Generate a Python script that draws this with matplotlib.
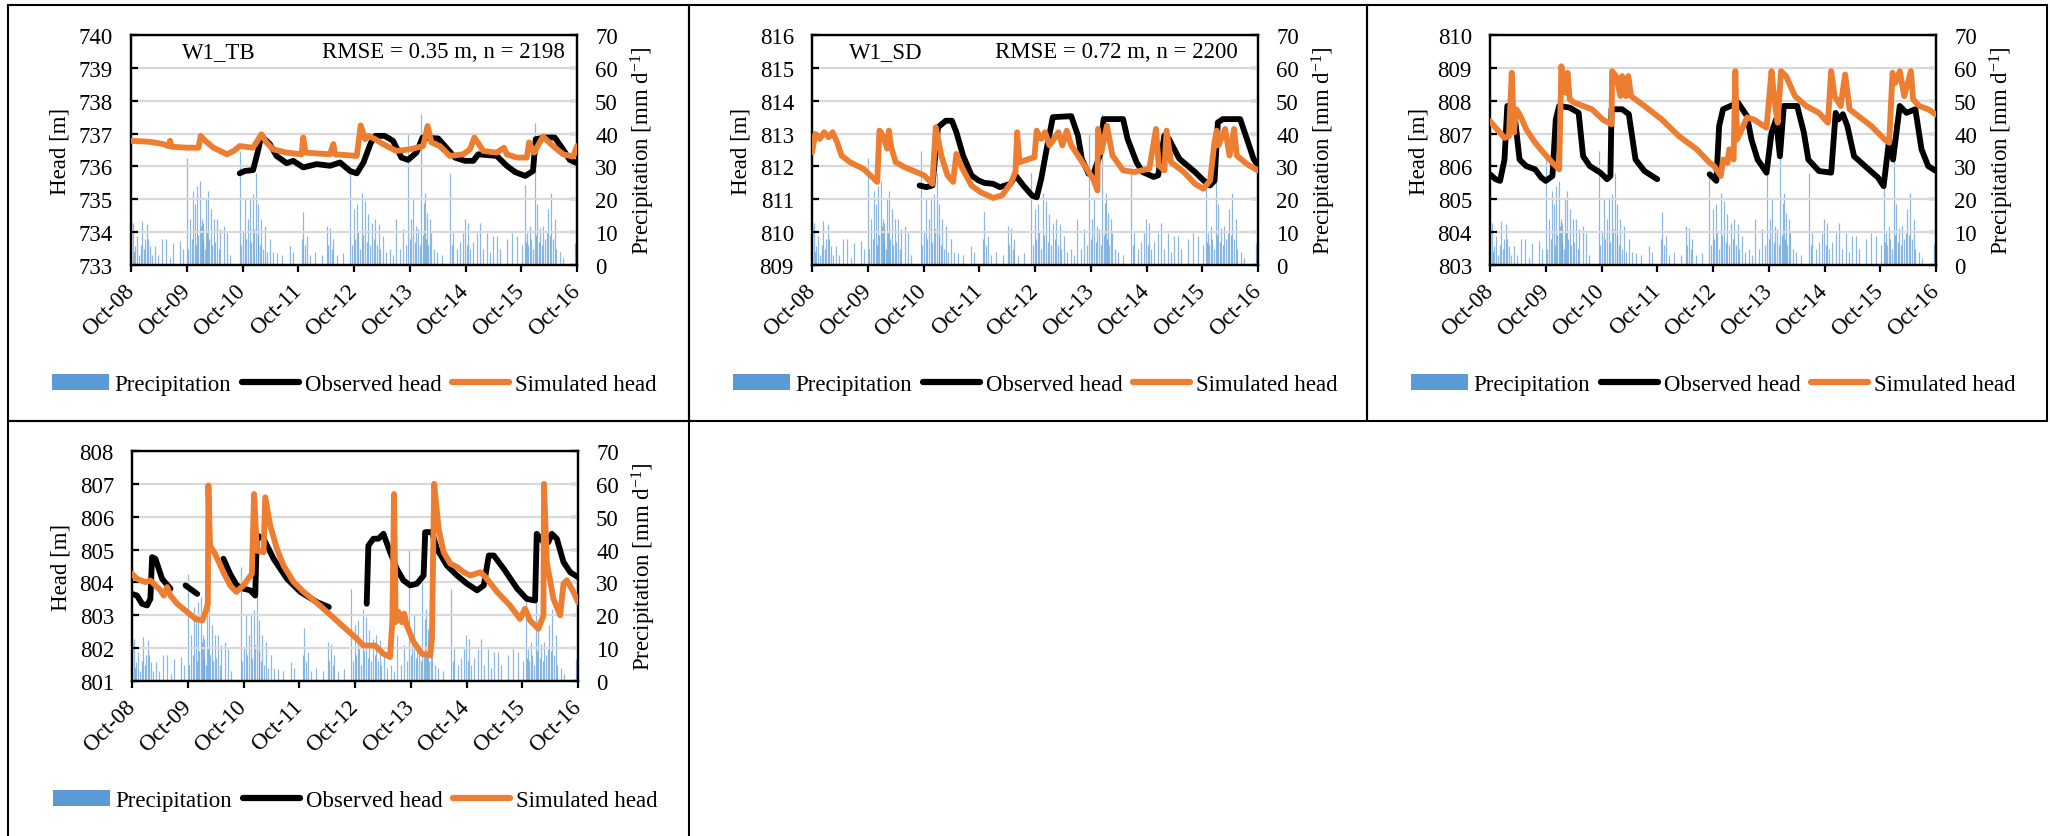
import numpy as np
import matplotlib
matplotlib.use("Agg")
import matplotlib.pyplot as plt
from matplotlib.patches import Patch, Rectangle
from matplotlib.lines import Line2D

plt.rcParams['font.family'] = ['Liberation Serif', 'DejaVu Serif']
plt.rcParams['mathtext.fontset'] = 'custom'
plt.rcParams['mathtext.rm'] = 'Liberation Serif'
plt.rcParams['mathtext.it'] = 'Liberation Serif:italic'

NAN = float('nan')

# ---------------- data ----------------
tick_labels = ['Oct-08', 'Oct-09', 'Oct-10', 'Oct-11', 'Oct-12',
               'Oct-13', 'Oct-14', 'Oct-15', 'Oct-16']
tick_years = [2008.75, 2009.75, 2010.75, 2011.75, 2012.75,
              2013.75, 2014.75, 2015.75, 2016.75]

# daily precipitation events (decimal year, mm/d)
precip_events = [
    (2008.78, 12.9), (2008.80, 4), (2008.82, 5.8), (2008.86, 8.7), (2008.90, 3),
    (2008.93, 6), (2008.95, 13.4), (2008.98, 5), (2009.01, 8), (2009.03, 12.4),
    (2009.06, 7.9), (2009.09, 5.8), (2009.13, 3), (2009.18, 5.8), (2009.24, 3),
    (2009.30, 7.8), (2009.38, 7.8), (2009.45, 2), (2009.51, 6.8), (2009.63, 7.3),
    (2009.69, 4.8),
    (2009.76, 32.7), (2009.78, 5), (2009.81, 13.9), (2009.84, 8), (2009.87, 22.5),
    (2009.90, 18.5), (2009.92, 6), (2009.93, 24), (2009.95, 9), (2009.98, 25.6),
    (2010.00, 12), (2010.02, 13.9), (2010.04, 7), (2010.05, 12.9), (2010.07, 5),
    (2010.09, 20.5), (2010.12, 10), (2010.14, 22.5), (2010.15, 8), (2010.18, 17),
    (2010.20, 6), (2010.23, 13.9), (2010.26, 7), (2010.29, 13.9), (2010.32, 5),
    (2010.35, 10.9), (2010.41, 11.9), (2010.47, 9.8), (2010.53, 3),
    (2010.70, 34.7), (2010.73, 6), (2010.76, 10), (2010.79, 20), (2010.82, 8),
    (2010.85, 13.9), (2010.88, 20), (2010.91, 7), (2010.93, 21.5), (2010.96, 11),
    (2010.99, 28), (2011.02, 9), (2011.03, 18.5), (2011.06, 6), (2011.09, 13.9),
    (2011.12, 5), (2011.15, 11.9), (2011.19, 4), (2011.24, 7.8), (2011.30, 4),
    (2011.36, 3.7), (2011.45, 3), (2011.60, 5.8), (2011.66, 4),
    (2011.81, 8), (2011.84, 16), (2011.87, 6), (2011.90, 8.8), (2011.96, 3),
    (2012.05, 4), (2012.17, 3), (2012.26, 11.9), (2012.29, 6), (2012.32, 11.4),
    (2012.35, 5), (2012.38, 7.9), (2012.44, 3), (2012.56, 3.7),
    (2012.68, 28), (2012.71, 6), (2012.75, 17), (2012.77, 8), (2012.80, 18.5),
    (2012.83, 10), (2012.86, 5), (2012.89, 22), (2012.92, 9), (2012.95, 19.5),
    (2012.98, 7), (2013.01, 15.4), (2013.04, 6), (2013.08, 12.9), (2013.10, 8),
    (2013.13, 13.9), (2013.16, 6), (2013.19, 12.4), (2013.22, 5), (2013.27, 8.8),
    (2013.33, 4), (2013.39, 5), (2013.45, 3),
    (2013.51, 13.9), (2013.57, 5), (2013.63, 10.9), (2013.69, 6), (2013.72, 39.8),
    (2013.75, 8), (2013.78, 14), (2013.81, 20), (2013.84, 7), (2013.87, 12),
    (2013.90, 10.9), (2013.93, 6), (2013.96, 46), (2013.98, 9), (2014.00, 19),
    (2014.02, 22), (2014.04, 8), (2014.06, 15.9), (2014.08, 6), (2014.11, 13.9),
    (2014.14, 9.8), (2014.18, 5), (2014.23, 4), (2014.32, 3),
    (2014.47, 28), (2014.50, 6), (2014.53, 9.8), (2014.59, 5), (2014.65, 7),
    (2014.71, 9.8), (2014.74, 14), (2014.77, 6), (2014.80, 12.9), (2014.83, 5),
    (2014.89, 7), (2014.95, 9.8), (2015.01, 12.9), (2015.07, 5), (2015.13, 9.8),
    (2015.19, 4), (2015.25, 8.8), (2015.31, 8.8), (2015.37, 4.8), (2015.49, 7.8),
    (2015.58, 9.8), (2015.67, 8.8),
    (2015.76, 6), (2015.82, 24.5), (2015.83, 7), (2015.86, 9.8), (2015.88, 6),
    (2015.91, 11.9), (2015.93, 8), (2015.96, 5), (2015.99, 43.3), (2016.01, 9),
    (2016.04, 18.5), (2016.06, 7), (2016.09, 11.4), (2016.12, 6), (2016.14, 11.9),
    (2016.17, 8), (2016.21, 9.8), (2016.23, 16.9), (2016.26, 9), (2016.29, 22),
    (2016.32, 8), (2016.35, 13.9), (2016.38, 5), (2016.44, 4), (2016.50, 2.2),
    (2016.71, 6.8),
]

# ---- W1_TB ----
obs_TB = [
    (2010.70, 735.79), (2010.79, 735.86), (2010.94, 735.89), (2011.02, 736.42),
    (2011.09, 736.93), (2011.24, 736.68), (2011.36, 736.32), (2011.54, 736.10),
    (2011.66, 736.17), (2011.84, 735.97), (2012.08, 736.07), (2012.32, 736.02),
    (2012.50, 736.12), (2012.68, 735.86), (2012.80, 735.79), (2012.92, 736.12),
    (2013.05, 736.71), (2013.13, 736.93), (2013.30, 736.93), (2013.45, 736.78),
    (2013.60, 736.27), (2013.72, 736.20), (2013.87, 736.42), (2013.98, 736.88),
    (2014.26, 736.85), (2014.38, 736.62), (2014.56, 736.27), (2014.74, 736.17),
    (2014.89, 736.17), (2014.98, 736.37), (2015.31, 736.32), (2015.49, 736.02),
    (2015.64, 735.83), (2015.82, 735.71), (2015.96, 735.86), (2016.01, 736.83),
    (2016.17, 736.88), (2016.35, 736.88), (2016.50, 736.52), (2016.62, 736.20),
    (2016.75, 736.10),
]
sim_TB = [
    (2008.75, 736.78), (2009.09, 736.75), (2009.33, 736.68), (2009.42, 736.62),
    (2009.45, 736.78), (2009.48, 736.60), (2009.75, 736.57), (2009.96, 736.57),
    (2010.00, 736.93), (2010.08, 736.78), (2010.23, 736.57), (2010.47, 736.37),
    (2010.59, 736.47), (2010.70, 736.62), (2010.94, 736.57), (2011.09, 736.98),
    (2011.18, 736.73), (2011.30, 736.52), (2011.54, 736.42), (2011.81, 736.37),
    (2011.84, 736.88), (2011.88, 736.42), (2012.32, 736.37), (2012.38, 736.68),
    (2012.41, 736.37), (2012.80, 736.32), (2012.87, 737.25), (2012.95, 736.83),
    (2013.01, 736.93), (2013.13, 736.83), (2013.27, 736.68), (2013.51, 736.47),
    (2013.75, 736.52), (2013.99, 736.62), (2014.07, 737.23), (2014.14, 736.73),
    (2014.29, 736.62), (2014.47, 736.32), (2014.71, 736.37), (2014.83, 736.52),
    (2014.91, 736.88), (2015.07, 736.47), (2015.31, 736.42), (2015.44, 736.57),
    (2015.49, 736.37), (2015.67, 736.27), (2015.85, 736.27), (2015.89, 736.73),
    (2015.98, 736.42), (2016.14, 736.91), (2016.32, 736.62), (2016.50, 736.37),
    (2016.68, 736.30), (2016.75, 736.62),
]

# ---- W1_SD ----
obs_SD = [
    (2010.68, 811.42), (2010.80, 811.37), (2010.91, 811.42), (2011.01, 813.19),
    (2011.15, 813.39), (2011.26, 813.39), (2011.34, 813.04), (2011.46, 812.33),
    (2011.61, 811.73), (2011.73, 811.58), (2011.84, 811.50), (2012.00, 811.47),
    (2012.12, 811.37), (2012.31, 811.47), (2012.40, 811.73), (2012.54, 811.42),
    (2012.70, 811.11), (2012.78, 811.06), (2012.86, 811.61), (2012.97, 812.63),
    (2013.07, 813.50), (2013.40, 813.53), (2013.52, 812.94), (2013.59, 812.23),
    (2013.71, 811.78), (2013.79, 811.73), (2013.91, 812.33), (2013.98, 813.44),
    (2014.33, 813.44), (2014.41, 812.84), (2014.57, 812.13), (2014.68, 811.83),
    (2014.88, 811.68), (2014.96, 811.73), (2015.07, 812.94), (2015.15, 812.84),
    (2015.34, 812.23), (2015.62, 811.83), (2015.77, 811.58), (2015.89, 811.42),
    (2015.97, 811.57), (2016.03, 813.34), (2016.12, 813.44), (2016.43, 813.44),
    (2016.55, 812.84), (2016.67, 812.23), (2016.75, 812.03),
]
sim_SD = [
    (2008.75, 812.43), (2008.81, 812.99), (2008.89, 812.84), (2008.97, 813.04),
    (2009.05, 812.89), (2009.12, 813.04), (2009.20, 812.74), (2009.28, 812.33),
    (2009.43, 812.13), (2009.67, 811.93), (2009.92, 811.53), (2009.96, 813.09),
    (2010.02, 812.94), (2010.10, 812.54), (2010.13, 813.09), (2010.17, 812.59),
    (2010.25, 812.13), (2010.41, 811.98), (2010.48, 811.93), (2010.76, 811.73),
    (2010.91, 811.47), (2010.97, 813.19), (2011.07, 812.33), (2011.18, 811.73),
    (2011.28, 811.53), (2011.34, 812.38), (2011.42, 812.03), (2011.61, 811.42),
    (2011.77, 811.22), (2012.00, 811.04), (2012.16, 811.12), (2012.31, 811.47),
    (2012.40, 811.83), (2012.43, 813.04), (2012.47, 812.13), (2012.74, 812.28),
    (2012.78, 813.09), (2012.86, 812.84), (2012.93, 813.04), (2013.01, 812.64),
    (2013.17, 813.04), (2013.24, 812.64), (2013.32, 813.09), (2013.40, 812.64),
    (2013.56, 812.23), (2013.79, 811.63), (2013.87, 811.27), (2013.88, 813.14),
    (2013.94, 812.43), (2014.04, 813.24), (2014.14, 812.33), (2014.33, 811.88),
    (2014.53, 811.83), (2014.80, 811.93), (2014.92, 813.14), (2014.97, 812.03),
    (2015.07, 811.88), (2015.11, 813.09), (2015.19, 812.13), (2015.42, 811.83),
    (2015.62, 811.47), (2015.77, 811.32), (2015.89, 811.57), (2015.97, 812.74),
    (2016.01, 813.09), (2016.04, 812.64), (2016.16, 813.14), (2016.24, 812.33),
    (2016.32, 813.14), (2016.37, 812.33), (2016.51, 812.13), (2016.59, 812.03),
    (2016.75, 811.88),
]

# ---- third well ----
obs_3 = [
    (2008.75, 805.76), (2008.85, 805.61), (2008.93, 805.56), (2009.01, 806.21),
    (2009.06, 807.84), (2009.13, 807.84), (2009.20, 807.43), (2009.28, 806.21),
    (2009.40, 806.01), (2009.56, 805.91), (2009.67, 805.66), (2009.75, 805.56),
    (2009.87, 805.71), (2009.93, 807.43), (2009.99, 807.84), (2010.18, 807.79),
    (2010.34, 807.63), (2010.42, 806.31), (2010.54, 806.01), (2010.73, 805.81),
    (2010.85, 805.61), (2010.91, 805.71), (2010.93, 807.74), (2011.12, 807.74),
    (2011.24, 807.59), (2011.36, 806.21), (2011.52, 805.86), (2011.75, 805.61),
    (2012.20, NAN),
    (2012.69, 805.76), (2012.81, 805.56), (2012.86, 807.23), (2012.93, 807.74),
    (2013.20, 807.94), (2013.36, 807.53), (2013.44, 806.82), (2013.55, 806.21),
    (2013.71, 805.81), (2013.80, 807.03), (2013.88, 807.43), (2013.95, 806.31),
    (2014.02, 807.84), (2014.26, 807.84), (2014.38, 807.03), (2014.46, 806.21),
    (2014.65, 805.86), (2014.87, 805.81), (2014.95, 807.63), (2015.00, 807.43),
    (2015.08, 807.59), (2015.16, 807.23), (2015.28, 806.31), (2015.51, 805.96),
    (2015.71, 805.66), (2015.81, 805.40), (2015.91, 806.82), (2015.98, 806.21),
    (2016.10, 807.84), (2016.22, 807.63), (2016.38, 807.74), (2016.49, 806.52),
    (2016.61, 806.01), (2016.75, 805.86),
]
sim_3 = [
    (2008.75, 807.38), (2008.85, 807.18), (2009.01, 806.87), (2009.09, 806.92),
    (2009.14, 808.85), (2009.18, 807.03), (2009.22, 807.74), (2009.28, 807.59),
    (2009.40, 807.13), (2009.56, 806.72), (2009.71, 806.42), (2009.87, 806.11),
    (2009.99, 805.91), (2010.03, 809.05), (2010.07, 808.54), (2010.11, 808.24),
    (2010.14, 808.85), (2010.18, 808.04), (2010.26, 807.94), (2010.42, 807.84),
    (2010.58, 807.74), (2010.77, 807.43), (2010.93, 807.28), (2010.94, 808.90),
    (2011.01, 808.75), (2011.09, 808.14), (2011.12, 808.75), (2011.19, 808.14),
    (2011.23, 808.75), (2011.28, 808.14), (2011.52, 807.84), (2011.83, 807.43),
    (2012.14, 806.92), (2012.46, 806.52), (2012.69, 806.11), (2012.77, 806.01),
    (2012.89, 805.71), (2012.93, 806.21), (2013.01, 806.11), (2013.04, 806.52),
    (2013.12, 806.21), (2013.15, 808.90), (2013.18, 806.82), (2013.24, 807.03),
    (2013.36, 807.49), (2013.48, 807.43), (2013.71, 807.18), (2013.80, 808.90),
    (2013.85, 808.04), (2013.91, 807.33), (2013.97, 808.90), (2014.06, 808.75),
    (2014.22, 808.14), (2014.42, 807.84), (2014.65, 807.63), (2014.81, 807.33),
    (2014.87, 808.90), (2014.93, 808.14), (2015.04, 807.84), (2015.12, 808.80),
    (2015.20, 807.74), (2015.36, 807.53), (2015.59, 807.23), (2015.83, 806.82),
    (2015.91, 806.72), (2015.97, 808.85), (2016.02, 808.54), (2016.10, 808.90),
    (2016.18, 808.14), (2016.30, 808.90), (2016.34, 808.04), (2016.45, 807.84),
    (2016.61, 807.74), (2016.75, 807.58),
]

# ---- fourth well ----
obs_4 = [
    (2008.75, 803.65), (2008.84, 803.60), (2008.93, 803.35), (2009.02, 803.30),
    (2009.08, 803.50), (2009.11, 804.77), (2009.17, 804.72), (2009.29, 804.11),
    (2009.44, 803.81), (2009.58, NAN),
    (2009.71, 803.91), (2009.92, 803.65), (2010.15, NAN),
    (2010.39, 804.72), (2010.51, 804.26), (2010.63, 803.91), (2010.75, 803.81),
    (2010.87, 803.76), (2010.96, 803.60), (2010.99, 805.43), (2011.11, 805.33),
    (2011.29, 804.72), (2011.53, 804.11), (2011.77, 803.71), (2012.07, 803.40),
    (2012.28, 803.25), (2012.60, NAN),
    (2012.96, 803.35), (2012.99, 805.12), (2013.08, 805.33), (2013.17, 805.33),
    (2013.26, 805.48), (2013.38, 804.92), (2013.50, 804.41), (2013.62, 804.06),
    (2013.74, 803.91), (2013.86, 803.96), (2013.98, 804.21), (2014.01, 805.53),
    (2014.13, 805.53), (2014.22, 805.02), (2014.40, 804.51), (2014.58, 804.21),
    (2014.76, 803.96), (2014.94, 803.76), (2015.06, 803.91), (2015.15, 804.82),
    (2015.24, 804.82), (2015.42, 804.41), (2015.66, 803.81), (2015.83, 803.50),
    (2015.98, 803.45), (2016.01, 805.48), (2016.08, 805.33), (2016.16, 805.17),
    (2016.22, 805.23), (2016.28, 805.48), (2016.37, 805.33), (2016.49, 804.62),
    (2016.61, 804.31), (2016.75, 804.16),
]
sim_4 = [
    (2008.75, 804.26), (2008.84, 804.11), (2008.99, 804.01), (2009.08, 804.06),
    (2009.17, 803.91), (2009.26, 803.76), (2009.32, 803.60), (2009.38, 803.86),
    (2009.44, 803.60), (2009.56, 803.35), (2009.74, 803.10), (2009.89, 802.89),
    (2010.01, 802.84), (2010.07, 803.10), (2010.11, 803.35), (2010.12, 806.95),
    (2010.15, 805.12), (2010.24, 804.87), (2010.39, 804.31), (2010.51, 803.91),
    (2010.62, 803.71), (2010.75, 803.91), (2010.90, 804.26), (2010.94, 806.69),
    (2010.99, 804.97), (2011.11, 804.92), (2011.14, 806.59), (2011.23, 805.73),
    (2011.35, 805.02), (2011.47, 804.51), (2011.65, 804.01), (2011.83, 803.71),
    (2012.01, 803.46), (2012.25, 803.10), (2012.55, 802.64), (2012.78, 802.29),
    (2012.90, 802.08), (2013.11, 802.08), (2013.26, 801.83), (2013.38, 801.73),
    (2013.42, 802.84), (2013.45, 806.69), (2013.48, 802.79), (2013.53, 803.10),
    (2013.59, 802.79), (2013.63, 803.05), (2013.68, 802.69), (2013.80, 802.19),
    (2013.95, 801.83), (2014.10, 801.78), (2014.13, 802.29), (2014.17, 807.00),
    (2014.25, 805.63), (2014.34, 804.92), (2014.46, 804.57), (2014.58, 804.47),
    (2014.70, 804.31), (2014.82, 804.21), (2015.00, 804.31), (2015.09, 804.16),
    (2015.30, 803.71), (2015.53, 803.30), (2015.71, 802.89), (2015.80, 803.20),
    (2015.89, 802.84), (2016.04, 802.59), (2016.13, 802.99), (2016.14, 807.00),
    (2016.19, 804.62), (2016.31, 803.50), (2016.43, 803.00), (2016.49, 803.96),
    (2016.55, 804.06), (2016.67, 803.71), (2016.75, 803.40),
]

panel_names = ['W1_TB', 'W1_SD', '', '']
panel_stats = ['RMSE = 0.35 m, n = 2198', 'RMSE = 0.72 m, n = 2200', '', '']
head_limits = [(733, 740), (809, 816), (803, 810), (801, 808)]
obs_series = [obs_TB, obs_SD, obs_3, obs_4]
sim_series = [sim_TB, sim_SD, sim_3, sim_4]

# ---------------- layout / style ----------------
W, H = 2050, 837
BLUE = '#5B9BD5'
ORANGE = '#ED7D31'
GRID = '#D9D9D9'
FS = 16.5

# plot-area pixel boxes (left, right, top, bottom)
boxes = [(131, 577, 36, 266), (812, 1258, 36, 266),
         (1490, 1936, 36, 266), (132, 578, 452, 682)]
name_x = [0.197, 0.166, 0.2, 0.2]
stats_x = [0.973, 0.955, 0.97, 0.97]
frames = [(8, 689, 6, 422), (689, 1367, 6, 422), (1367, 2047, 6, 422),
          (8, 689, 422, 845)]

fig = plt.figure(figsize=(W / 100, H / 100), dpi=100)

for (l, r, t, b) in frames:
    fig.add_artist(Rectangle((l / W, 1 - b / H), (r - l) / W, (b - t) / H,
                             transform=fig.transFigure, fill=False,
                             edgecolor='black', linewidth=1.5, clip_on=False))

pt, pm = zip(*precip_events)

for i, (l, r, t, b) in enumerate(boxes):
    ax = fig.add_axes([l / W, 1 - b / H, (r - l) / W, (b - t) / H])
    ax2 = ax.twinx()
    ax.set_zorder(ax2.get_zorder() + 1)
    ax.patch.set_visible(False)

    # precipitation bars (one thin bar per day)
    ax2.vlines(pt, 0, pm, colors=BLUE, linewidth=0.9, alpha=0.7)
    ax2.set_ylim(0, 70)
    ax2.set_yticks(range(0, 71, 10))

    # heads
    ot, oh = zip(*obs_series[i])
    st, sh = zip(*sim_series[i])
    ax.plot(ot, oh, color='black', lw=4.2, solid_joinstyle='round',
            solid_capstyle='round', zorder=3)
    ax.plot(st, sh, color=ORANGE, lw=4.2, solid_joinstyle='round',
            solid_capstyle='round', zorder=4)

    lo, hi = head_limits[i]
    ax.set_ylim(lo, hi)
    ax.set_yticks(range(lo, hi + 1))
    ax.set_xlim(tick_years[0], tick_years[-1])
    ax.set_xticks(tick_years)
    ax.set_xticklabels(tick_labels, rotation=45, ha='right',
                       rotation_mode='anchor', va='center')
    ax.yaxis.grid(True, color=GRID, lw=1.6, zorder=0)
    ax.set_axisbelow(True)

    for a in (ax, ax2):
        for s in a.spines.values():
            s.set_linewidth(1.6)
            s.set_color('black')
    ax.tick_params(axis='y', direction='in', length=5, width=1.6,
                   labelsize=FS, pad=13)
    ax.tick_params(axis='x', direction='out', length=5, width=1.6,
                   labelsize=FS, pad=11)
    ax2.tick_params(axis='y', direction='in', length=5, width=1.6,
                    labelsize=FS, pad=13)

    ax.set_ylabel('Head [m]', fontsize=FS, labelpad=6)
    ax2.set_ylabel('Precipitation [mm d$^{-1}$]', fontsize=FS,
                   rotation=90, labelpad=8)

    if panel_names[i]:
        ax.text(name_x[i], 0.93, panel_names[i], transform=ax.transAxes,
                ha='center', va='center', fontsize=FS)
        ax.text(stats_x[i], 0.93, panel_stats[i], transform=ax.transAxes,
                ha='right', va='center', fontsize=FS)

    handles = [Patch(facecolor=BLUE, edgecolor='none'),
               Line2D([], [], color='black', lw=4.5, solid_capstyle='round'),
               Line2D([], [], color=ORANGE, lw=4.5, solid_capstyle='round')]
    ax.legend(handles, ['Precipitation', 'Observed head', 'Simulated head'],
              loc='center', bbox_to_anchor=(0.5, -0.52), ncol=3,
              frameon=False, fontsize=FS, handlelength=2.5,
              handletextpad=0.25, columnspacing=0.45, handleheight=0.65)

fig.savefig('out.png', dpi=100)
